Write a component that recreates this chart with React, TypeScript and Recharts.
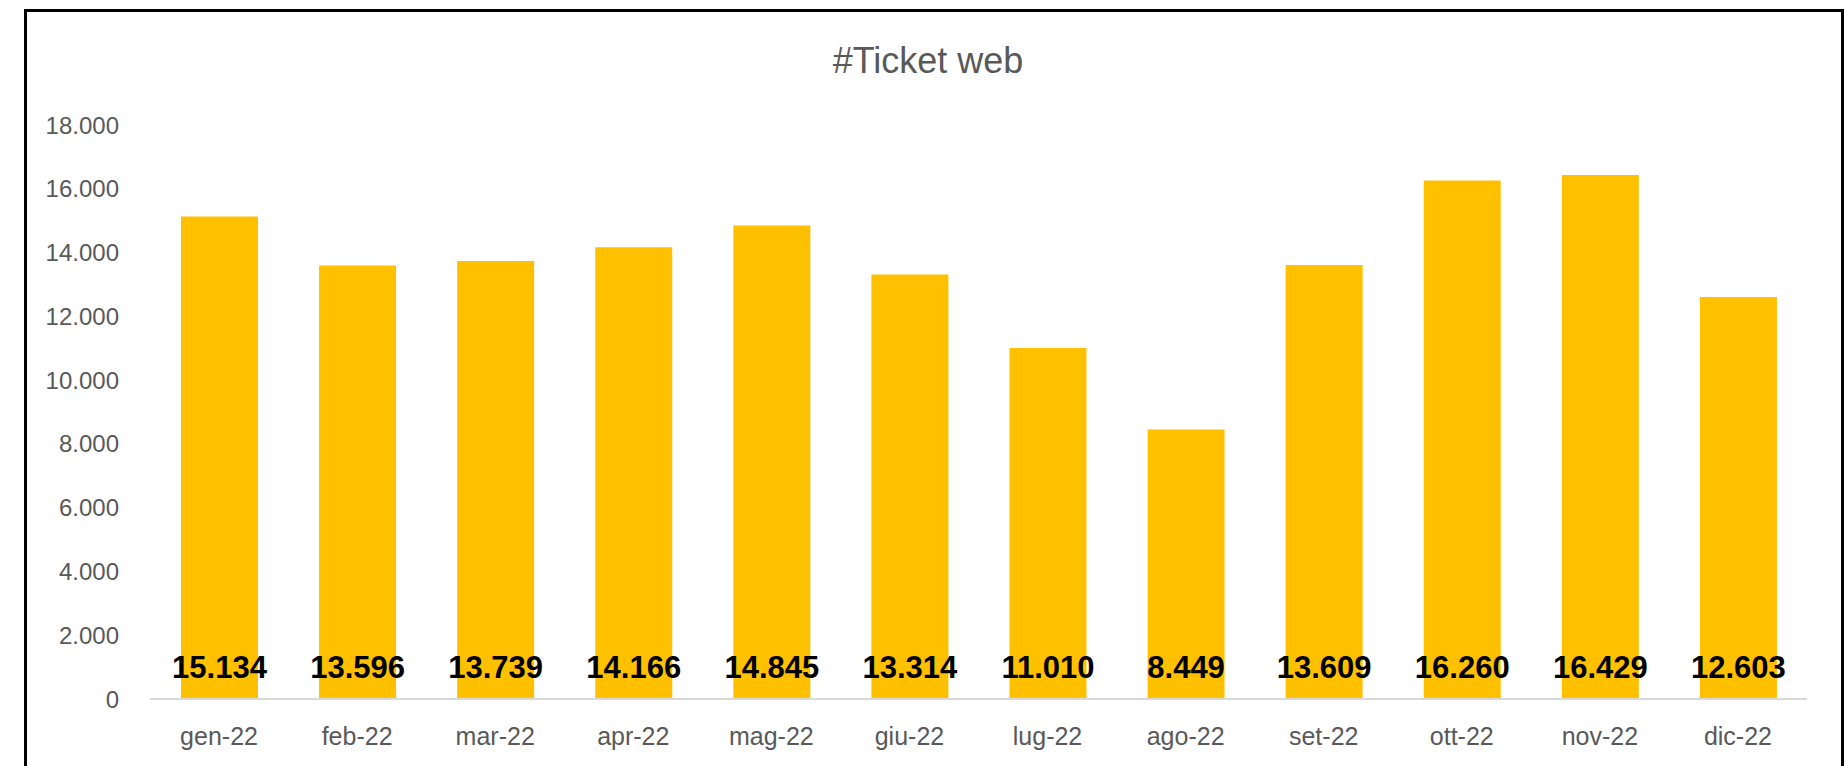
import React from 'react';
import { BarChart, Bar, XAxis, YAxis, LabelList } from 'recharts';

const months = ['gen-22', 'feb-22', 'mar-22', 'apr-22', 'mag-22', 'giu-22', 'lug-22', 'ago-22', 'set-22', 'ott-22', 'nov-22', 'dic-22'];
const tickets = [15134, 13596, 13739, 14166, 14845, 13314, 11010, 8449, 13609, 16260, 16429, 12603];
const yTicks = [0, 2000, 4000, 6000, 8000, 10000, 12000, 14000, 16000, 18000];

// thousands with a dot, like the italian excel export
const fmt = (v: number) => String(v).replace(/\B(?=(\d{3})+(?!\d))/g, '.');

const data = months.map((m, i) => ({ name: m, ticket: tickets[i] }));

const font = '"Liberation Sans", Arial, sans-serif';

const App = () => {
  return (
    <div style={{ position: 'absolute', left: 0, top: 0, width: 1844, height: 766, overflow: 'hidden', background: '#fff' }}>
      <div
        style={{
          position: 'absolute',
          left: 24,
          top: 9,
          width: 1820,
          height: 820,
          boxSizing: 'border-box',
          border: '3px solid #000',
        }}
      />
      <div
        style={{
          position: 'absolute',
          left: 0,
          width: 1856,
          top: 43,
          textAlign: 'center',
          fontFamily: font,
          fontSize: 36,
          lineHeight: '36px',
          color: '#595959',
        }}
      >
        #Ticket web
      </div>
      <div style={{ position: 'absolute', left: 0, top: 0 }}>
        <BarChart width={1844} height={766} data={data} margin={{ top: 125, right: 37, left: 0, bottom: 0 }}>
          <XAxis
            dataKey="name"
            height={67}
            tickLine={false}
            tickSize={0}
            tickMargin={28}
            axisLine={{ stroke: '#d9d9d9', strokeWidth: 2 }}
            tick={{ fill: '#595959', fontSize: 25, fontFamily: font }}
          />
          <YAxis
            width={150}
            domain={[0, 18000]}
            ticks={yTicks}
            tickFormatter={fmt}
            axisLine={false}
            tickLine={false}
            tickSize={0}
            tickMargin={31}
            tick={{ fill: '#595959', fontSize: 24, fontFamily: font }}
          />
          <Bar dataKey="ticket" fill="#FFC000" barSize={77} isAnimationActive={false}>
            <LabelList
              dataKey="ticket"
              position="insideBottom"
              offset={21}
              formatter={(v: any) => fmt(Number(v))}
              style={{ fill: '#000', fontSize: 31, fontWeight: 'bold', fontFamily: font }}
            />
          </Bar>
        </BarChart>
      </div>
    </div>
  );
};

export default App;
